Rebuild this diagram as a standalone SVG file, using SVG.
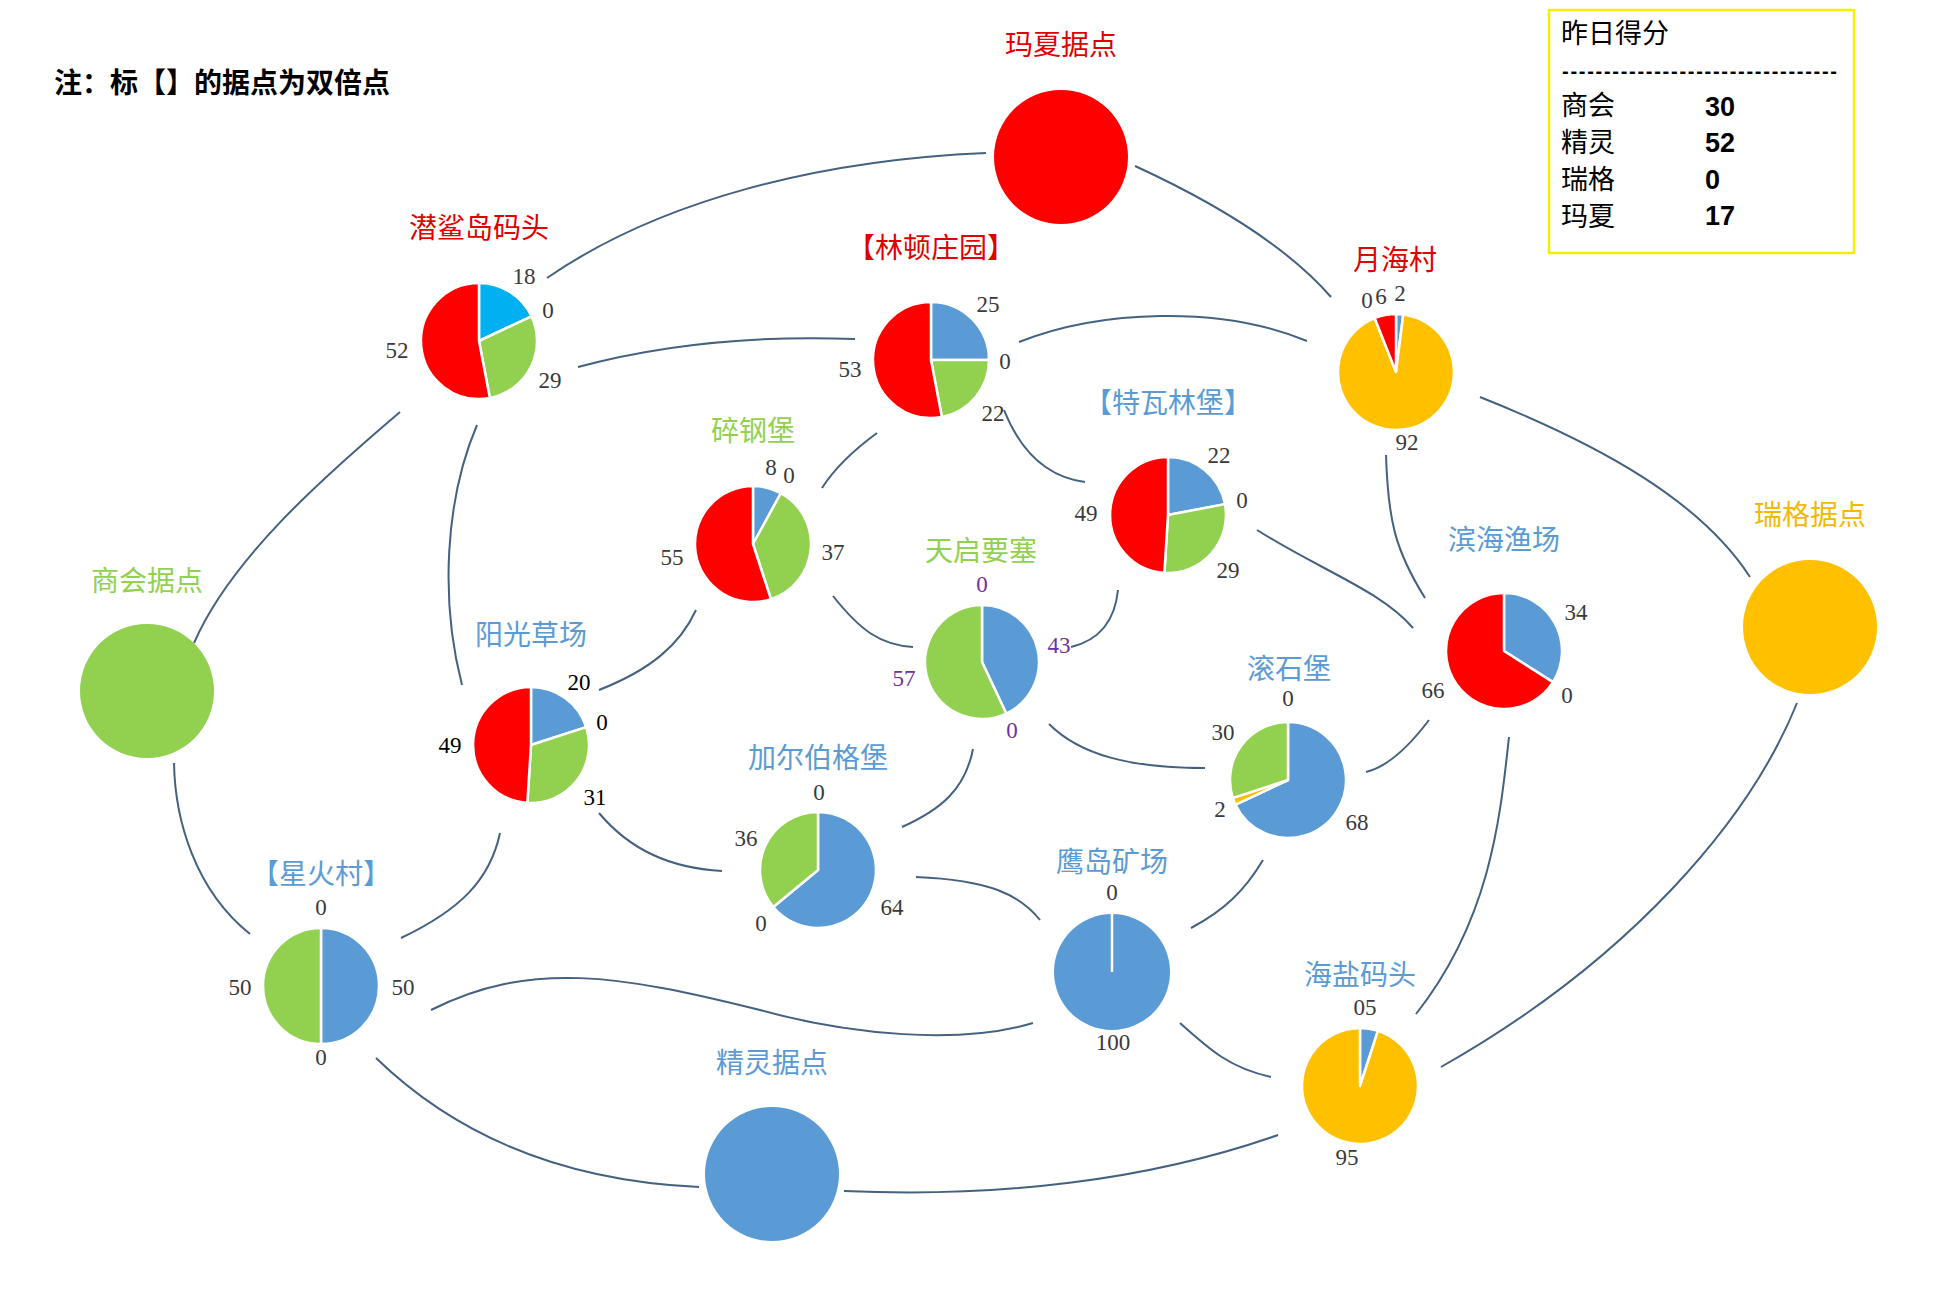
<svg xmlns="http://www.w3.org/2000/svg" width="1942" height="1294" viewBox="0 0 1942 1294">
<style>
.lbl{font-family:"Noto Sans CJK SC","Noto Sans",sans-serif;font-size:28px;text-anchor:middle}
.red{fill:#e00000}.blue{fill:#5b9bd5}.green{fill:#92d050}.gold{fill:#f5b800}
.num{font-family:"Liberation Serif",serif;font-size:23px;fill:#3a3a3a;text-anchor:middle}
.pur{fill:#7030a0}.blk{fill:#000}
.s{stroke:#fff;stroke-width:2.5;stroke-linejoin:round}
.cb{fill:#5b9bd5}.cg{fill:#92d050}.cr{fill:#ff0000}.cy{fill:#ffc000}.cc{fill:#00b0f0}
.link{fill:none;stroke:#44617f;stroke-width:2}
.note{font-family:"Noto Sans CJK SC",sans-serif;font-size:28px;font-weight:bold;fill:#000}
.sc{font-family:"Noto Sans CJK SC",sans-serif;font-size:27px;fill:#000}
.sn{font-family:"Liberation Sans",Arial,sans-serif;font-size:27px;font-weight:bold;fill:#000}
</style>
<rect width="1942" height="1294" fill="#fff"/>

<g id="connectors">
<path class="link" d="M547,278 C660,200 820,160 986,153"/>
<path class="link" d="M1135,166 C1220,205 1290,250 1331,297"/>
<path class="link" d="M578,367 C660,345 750,335 855,339"/>
<path class="link" d="M1019,342 C1100,310 1220,305 1307,341"/>
<path class="link" d="M400,412 C320,480 230,560 194,643"/>
<path class="link" d="M477,425 C445,500 440,600 462,685"/>
<path class="link" d="M877,433 Q840,460 822,488"/>
<path class="link" d="M1004,410 Q1030,475 1085,482"/>
<path class="link" d="M1480,397 C1600,445 1700,500 1750,577"/>
<path class="link" d="M1386,455 C1388,520 1395,550 1425,598"/>
<path class="link" d="M1257,530 C1320,570 1380,590 1413,628"/>
<path class="link" d="M1118,590 C1115,620 1100,640 1071,647"/>
<path class="link" d="M833,596 C860,630 880,645 913,647"/>
<path class="link" d="M696,610 C680,645 650,670 599,690"/>
<path class="link" d="M973,749 C965,790 940,810 902,827"/>
<path class="link" d="M1049,724 C1080,755 1130,768 1205,768"/>
<path class="link" d="M1429,720 Q1395,765 1366,772"/>
<path class="link" d="M1509,737 C1500,820 1490,920 1416,1014"/>
<path class="link" d="M1797,703 C1750,820 1630,960 1441,1067"/>
<path class="link" d="M1263,860 C1245,890 1225,910 1191,928"/>
<path class="link" d="M916,877 C990,880 1020,895 1040,920"/>
<path class="link" d="M599,813 C630,850 670,868 722,871"/>
<path class="link" d="M500,833 C490,880 460,910 401,938"/>
<path class="link" d="M174,763 C175,820 195,890 250,934"/>
<path class="link" d="M431,1010 C530,960 620,975 760,1010 C850,1035 960,1045 1033,1023"/>
<path class="link" d="M376,1058 C440,1120 540,1180 699,1187"/>
<path class="link" d="M1180,1023 C1210,1050 1230,1068 1271,1077"/>
<path class="link" d="M844,1191 C1000,1198 1150,1180 1278,1135"/>
</g>

<g id="note">
<text class="note" x="54" y="93">注：标【】的据点为双倍点</text>
</g>

<g id="score-box">
<rect x="1549" y="10" width="305" height="243" fill="#fff" stroke="#f5f000" stroke-width="2.5"/>
<text class="sc" x="1561" y="43">昨日得分</text>
<text x="1562" y="78" font-family="Liberation Sans,Arial,sans-serif" font-size="20" font-weight="bold" textLength="275" lengthAdjust="spacing">---------------------------------</text>
<text class="sc" x="1561" y="115">商会</text><text class="sn" x="1705" y="116">30</text>
<text class="sc" x="1561" y="152">精灵</text><text class="sn" x="1705" y="152">52</text>
<text class="sc" x="1561" y="189">瑞格</text><text class="sn" x="1705" y="189">0</text>
<text class="sc" x="1561" y="226">玛夏</text><text class="sn" x="1705" y="225">17</text>
</g>

<g id="maxia">
<text class="lbl red" x="1061" y="55">玛夏据点</text>
<circle cx="1061" cy="157" r="67" class="cr"/>
</g>

<g id="ruige">
<text class="lbl gold" x="1810" y="525">瑞格据点</text>
<circle cx="1810" cy="627" r="67" class="cy"/>
</g>

<g id="shanghui">
<text class="lbl green" x="147" y="591">商会据点</text>
<circle cx="147" cy="691" r="67" class="cg"/>
</g>

<g id="jingling">
<text class="lbl blue" x="772" y="1073">精灵据点</text>
<circle cx="772" cy="1174" r="67" class="cb"/>
</g>

<g id="qiansha">
<text class="lbl red" x="479" y="238">潜鲨岛码头</text>
<path class="cc s" d="M479,341 L479,283 A58,58 0 0 1 531.48,316.30 Z"/>
<path class="cg s" d="M479,341 L531.48,316.30 A58,58 0 0 1 489.87,397.97 Z"/>
<path class="cr s" d="M479,341 L489.87,397.97 A58,58 0 1 1 479,283 Z"/>
<text class="num" x="524" y="284">18</text>
<text class="num" x="548" y="318">0</text>
<text class="num" x="550" y="388">29</text>
<text class="num" x="397" y="358">52</text>
</g>

<g id="linton">
<text class="lbl red" x="931" y="258">【林顿庄园】</text>
<path class="cb s" d="M931,360 L931,302 A58,58 0 0 1 989,360 Z"/>
<path class="cg s" d="M931,360 L989,360 A58,58 0 0 1 941.87,416.97 Z"/>
<path class="cr s" d="M931,360 L941.87,416.97 A58,58 0 1 1 931,302 Z"/>
<text class="num" x="988" y="312">25</text>
<text class="num" x="1005" y="369">0</text>
<text class="num" x="993" y="421">22</text>
<text class="num" x="850" y="377">53</text>
</g>

<g id="suigang">
<text class="lbl green" x="753" y="441">碎钢堡</text>
<path class="cb s" d="M753,544 L753,486 A58,58 0 0 1 780.94,493.17 Z"/>
<path class="cg s" d="M753,544 L780.94,493.17 A58,58 0 0 1 770.92,599.16 Z"/>
<path class="cr s" d="M753,544 L770.92,599.16 A58,58 0 1 1 753,486 Z"/>
<text class="num" x="771" y="475">8</text>
<text class="num" x="789" y="483">0</text>
<text class="num" x="833" y="560">37</text>
<text class="num" x="672" y="565">55</text>
</g>

<g id="tewalin">
<text class="lbl blue" x="1168" y="413">【特瓦林堡】</text>
<path class="cb s" d="M1168,515 L1168,457 A58,58 0 0 1 1224.97,504.13 Z"/>
<path class="cg s" d="M1168,515 L1224.97,504.13 A58,58 0 0 1 1164.36,572.88 Z"/>
<path class="cr s" d="M1168,515 L1164.36,572.88 A58,58 0 0 1 1168,457 Z"/>
<text class="num" x="1219" y="463">22</text>
<text class="num" x="1242" y="508">0</text>
<text class="num" x="1228" y="578">29</text>
<text class="num" x="1086" y="521">49</text>
</g>

<g id="tianqi">
<text class="lbl green" x="981" y="561">天启要塞</text>
<path class="cb s" d="M982,662 L982,605 A57,57 0 0 1 1006.27,713.57 Z"/>
<path class="cg s" d="M982,662 L1006.27,713.57 A57,57 0 1 1 982,605 Z"/>
<text class="num pur" x="982" y="592">0</text>
<text class="num pur" x="1059" y="653">43</text>
<text class="num pur" x="904" y="686">57</text>
<text class="num pur" x="1012" y="738">0</text>
</g>

<g id="yangguang">
<text class="lbl blue" x="531" y="645">阳光草场</text>
<path class="cb s" d="M531,745 L531,687 A58,58 0 0 1 586.16,727.08 Z"/>
<path class="cg s" d="M531,745 L586.16,727.08 A58,58 0 0 1 527.36,802.88 Z"/>
<path class="cr s" d="M531,745 L527.36,802.88 A58,58 0 0 1 531,687 Z"/>
<text class="num blk" x="579" y="690">20</text>
<text class="num blk" x="602" y="730">0</text>
<text class="num blk" x="595" y="805">31</text>
<text class="num blk" x="450" y="753">49</text>
</g>

<g id="yuehai">
<text class="lbl red" x="1395" y="270">月海村</text>
<path class="cb s" d="M1396,372 L1396,314 A58,58 0 0 1 1403.27,314.46 Z"/>
<path class="cy s" d="M1396,372 L1403.27,314.46 A58,58 0 1 1 1374.65,318.07 Z"/>
<path class="cr s" d="M1396,372 L1374.65,318.07 A58,58 0 0 1 1396,314 Z"/>
<text class="num" x="1367" y="308">0</text>
<text class="num" x="1381" y="304">6</text>
<text class="num" x="1400" y="301">2</text>
<text class="num" x="1407" y="450">92</text>
</g>

<g id="binhai">
<text class="lbl blue" x="1504" y="550">滨海渔场</text>
<path class="cb s" d="M1504,651 L1504,593 A58,58 0 0 1 1552.97,682.08 Z"/>
<path class="cr s" d="M1504,651 L1552.97,682.08 A58,58 0 1 1 1504,593 Z"/>
<text class="num" x="1576" y="620">34</text>
<text class="num" x="1567" y="703">0</text>
<text class="num" x="1433" y="698">66</text>
</g>

<g id="gunshi">
<text class="lbl blue" x="1289" y="679">滚石堡</text>
<path class="cb s" d="M1288,780 L1288,722 A58,58 0 1 1 1235.52,804.70 Z"/>
<path class="cy s" d="M1288,780 L1235.52,804.70 A58,58 0 0 1 1232.84,797.92 Z"/>
<path class="cg s" d="M1288,780 L1232.84,797.92 A58,58 0 0 1 1288,722 Z"/>
<text class="num" x="1288" y="706">0</text>
<text class="num" x="1223" y="740">30</text>
<text class="num" x="1220" y="817">2</text>
<text class="num" x="1357" y="830">68</text>
</g>

<g id="jiaerboge">
<text class="lbl blue" x="818" y="768">加尔伯格堡</text>
<path class="cb s" d="M818,870 L818,812 A58,58 0 1 1 773.31,906.97 Z"/>
<path class="cg s" d="M818,870 L773.31,906.97 A58,58 0 0 1 818,812 Z"/>
<text class="num" x="819" y="800">0</text>
<text class="num" x="746" y="846">36</text>
<text class="num" x="761" y="931">0</text>
<text class="num" x="892" y="915">64</text>
</g>

<g id="yingdao">
<text class="lbl blue" x="1112" y="872">鹰岛矿场</text>
<circle cx="1112" cy="972" r="58" class="cb"/>
<line x1="1112" y1="972" x2="1112" y2="914" stroke="#fff" stroke-width="2.5"/>
<text class="num" x="1112" y="900">0</text>
<text class="num" x="1113" y="1050">100</text>
</g>

<g id="xinghuo">
<text class="lbl blue" x="321" y="884">【星火村】</text>
<path class="cb s" d="M321,986 L321,928 A58,58 0 0 1 321,1044 Z"/>
<path class="cg s" d="M321,986 L321,1044 A58,58 0 0 1 321,928 Z"/>
<text class="num" x="321" y="915">0</text>
<text class="num" x="240" y="995">50</text>
<text class="num" x="403" y="995">50</text>
<text class="num" x="321" y="1065">0</text>
</g>

<g id="haiyan">
<text class="lbl blue" x="1360" y="985">海盐码头</text>
<path class="cb s" d="M1360,1086 L1360,1028 A58,58 0 0 1 1377.92,1030.84 Z"/>
<path class="cy s" d="M1360,1086 L1377.92,1030.84 A58,58 0 1 1 1360,1028 Z"/>
<text class="num" x="1365" y="1015">05</text>
<text class="num" x="1347" y="1165">95</text>
</g>
</svg>
